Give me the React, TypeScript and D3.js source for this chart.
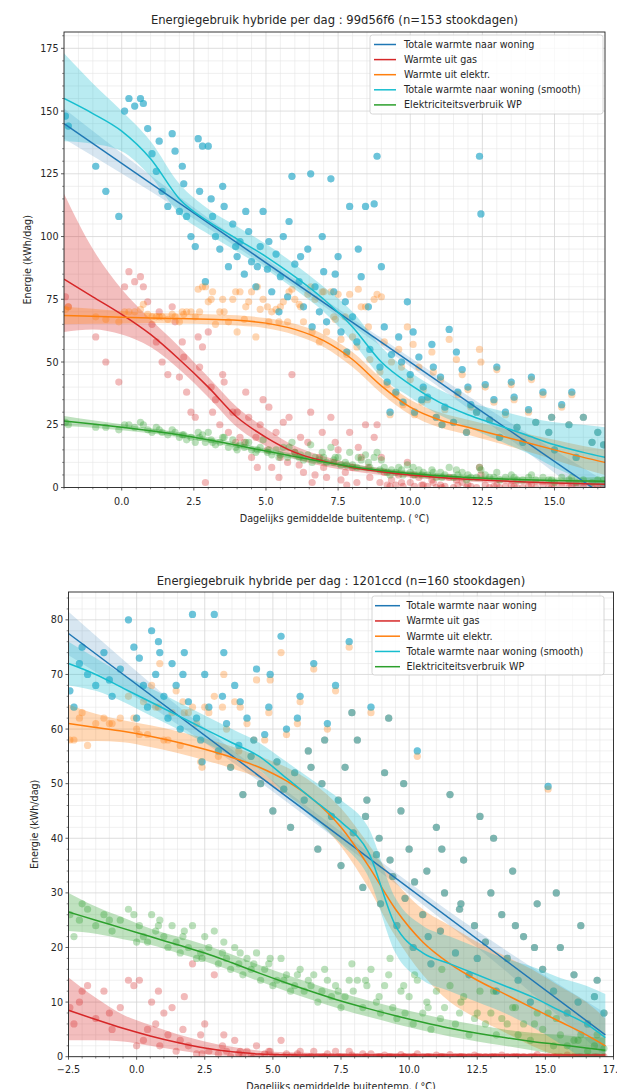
import React from 'react';
import * as d3 from 'd3';

const FONT = "'DejaVu Sans', sans-serif";
const COL = { blue: '#1f77b4', red: '#d62728', orange: '#ff7f0e', cyan: '#17becf', green: '#2ca02c' };
const legendLabels = [
  'Totale warmte naar woning',
  'Warmte uit gas',
  'Warmte uit elektr.',
  'Totale warmte naar woning (smooth)',
  'Elektriciteitsverbruik WP',
];
const legendColors = [COL.blue, COL.red, COL.orange, COL.cyan, COL.green];
const xAxisLabel = 'Dagelijks gemiddelde buitentemp. (\u2009\u00b0C)';
const yAxisLabel = 'Energie (kWh/dag)';

// ---------------- chart 1 : 99d56f6 ----------------
const c1Title = 'Energiegebruik hybride per dag : 99d56f6 (n=153 stookdagen)';
const c1XTicks = [0, 2.5, 5, 7.5, 10, 12.5, 15];
const c1YTicks = [0, 25, 50, 75, 100, 125, 150, 175];
const c1Temp = [-1.95,-1.85,-0.9,-0.55,-0.1,0.25,0.45,0.65,0.75,0.9,1.05,1.2,1.4,1.6,1.75,1.85,2.0,2.15,2.25,2.4,2.55,2.65,2.8,2.9,3.0,3.1,3.25,3.4,3.55,3.7,3.85,4.0,4.1,4.25,4.4,4.5,4.65,4.8,4.9,5.05,5.2,5.35,5.5,5.6,5.75,5.9,6.0,6.15,6.3,6.45,6.55,6.7,6.85,7.0,7.1,7.25,7.35,7.5,7.6,7.75,7.9,8.0,8.15,8.3,8.45,8.6,8.75,8.85,8.95,9.1,9.2,9.35,9.5,9.6,9.75,9.9,10.0,10.15,10.3,10.45,10.6,10.75,10.9,11.05,11.2,11.35,11.5,11.65,11.8,11.95,12.1,12.4,12.45,12.6,12.75,12.9,13.1,13.3,13.5,13.7,13.9,14.1,14.35,14.6,14.8,15.0,15.25,15.5,15.75,16.0,16.3,16.7,
  0.1,1.3,2.1,2.7,3.15,3.5,3.95,4.3,4.7,5.1,5.45,5.8,6.2,6.6,6.95,7.4,7.8,8.2,8.55,9.0,9.3,9.7,10.1,10.4,10.8,11.1,11.6,12.0,12.3,13.0,13.6,14.2,14.9,15.6,16.5];
const c1Total = [148,144,128,118,108,155,152,155,153,143, 133,126,118,112,141,134,110,121,108,100, 96,139,136,82,136,115,100,95,112,88, 105,92,98,85,102,90,80,96,110,87, 78,93,84,100,76,124,89,82,72,95, 125,80,70,86,66,123,78,92,62,74, 112,68,58,84,112,55,113,132,48,64, 42,53,38,60,34,74,45,30,52,40, 36,57,28,44,32,63,26,38,47,22, 33,132,109,41,27,35,20,30,42,24, 18,31,26,38,22,15,33,25,12,28, 18,17,
  150,138,128,118,108,120,96,110,88,98,70,106,92,64,100,85,54,95,72,88,30,50,62,35,48,25,54,40,30,48,36,44,28,38,22];
const c1Gas = [76,72,60,50,42,86,82,84,80,74, 65,58,50,45,72,66,44,52,38,30, 28,60,56,2,62,40,35,25,42,22, 30,30,20,18,28,12,20,25,35,15, 8,22,12,26,10,45,14,9,6,18, 30,5,12,8,4,28,10,15,3,6, 22,8,2,12,25,4,20,25,2,6, 1,3,1,5,0.5,10,2,0.5,4,1, 0.5,3,0,1,0.5,4,0,1,2,0, 0.5,8,5,1,0,0.5,0,0.5,1,0, 0,0.5,0,1,0,0,0.5,0,0,0, 0,0,
  80,70,58,48,30,45,18,38,8,32,4,28,20,2,22,18,1,16,8,12,0.5,2,5,1,2,0,3,1,0,1,0.5,1,0,0.5,0];
const c1Elek = [71,72,68,67,66,70,70,71,73,69, 68,68,68,67,69,68,66,69,70,70, 68,79,80,80,74,75,65,70,70,66, 75,62,78,67,74,78,60,71,75,72, 70,71,72,74,66,79,75,73,66,77, 80,75,58,78,62,78,68,77,59,68, 77,60,56,72,72,51,75,77,46,58, 41,50,37,55,33,64,43,29,48,39, 35,54,28,43,31,59,26,37,45,22, 32,55,50,40,27,34,20,29,41,24, 18,30,26,37,22,15,32,25,12,28, 18,17,
  70,68,70,70,78,75,78,72,80,66,66,78,72,62,78,67,53,79,64,76,29,48,57,34,46,25,51,39,30,47,35,43,28,37,22];
const c1Wp = [26,25,24,24,23,25,24,26,25,23, 22,24,22,21,23,22,20,21,19,20, 18,22,21,18,22,19,17,18,20,16, 19,15,17,16,18,15,14,16,19,14, 13,15,13,16,12,18,14,12,11,13, 17,12,11,12,10,16,11,12,9,10, 14,9,8,11,13,8,12,14,7,8, 6,7,6,8,5,9,6,5,7,6, 5,7,4,6,5,8,4,5,6,3, 4,8,7,5,4,4,3,4,5,3, 3,4,3,4,3,2,4,3,2,3, 2,3,
  25,23,21,20,18,20,16,18,15,15,12,16,13,10,14,12,9,12,10,11,5,7,8,5,6,4,7,5,4,6,4,5,3,4,3];
// smoothed curves
const c1CurveX = [-2, -1, 0, 1, 2, 3, 4, 5, 6, 7, 8, 9, 10, 11, 12, 13, 14, 15, 16, 16.75];
const c1GasLine = [83, 76, 69, 61, 51, 40, 28, 20, 14, 10.5, 8, 6.3, 5, 4, 3.3, 2.7, 2.2, 1.8, 1.5, 1.3];
const c1GasLo = [62, 63, 61, 56, 47, 36, 24, 16.5, 11.5, 8.5, 6.5, 5, 4, 3, 2.4, 1.8, 1.3, 0.9, 0.5, 0.2];
const c1GasHi = [117, 95, 79, 67, 56, 44, 32, 23.5, 16.5, 12.5, 9.5, 7.6, 6.2, 5.1, 4.3, 3.7, 3.2, 2.8, 2.6, 2.5];
const c1ElLine = [68.5, 68.2, 67.8, 67.5, 67.3, 67, 66.6, 65.5, 63, 58.5, 51, 40.5, 32, 27, 24, 21, 18, 15, 12, 10];
const c1ElLo = [65, 65.2, 65.3, 65.5, 65.3, 65, 64.6, 63.5, 60.8, 56, 48, 37.5, 29, 24, 21, 17.8, 14.5, 11, 7.5, 5];
const c1ElHi = [72, 71.2, 70.3, 69.5, 69.3, 69, 68.6, 67.5, 65.2, 61, 54, 43.5, 35, 30, 27, 24.2, 21.5, 19, 16.5, 15];
const c1CyLine = [155, 149, 142, 131, 115, 106, 99, 92, 84, 75, 64, 50, 41, 34, 29, 25, 21, 17, 14, 12];
const c1CyLo = [138, 137, 134, 124, 109, 101, 94, 87, 79, 70, 58, 44, 36, 29, 24, 19, 14, 8, 3, 0];
const c1CyHi = [173, 161, 150, 138, 121, 111, 104, 97, 89, 80, 70, 56, 46, 39, 34, 31, 28, 26, 25, 24];
const c1GrLine = [26.5, 25.3, 24, 22.6, 21, 19, 16.8, 14.5, 12.3, 10.2, 8.3, 6.8, 5.6, 4.7, 4, 3.5, 3.1, 2.8, 2.6, 2.5];
const c1GrLo = [24.5, 23.8, 22.8, 21.6, 20, 18, 15.8, 13.5, 11.3, 9.2, 7.3, 5.8, 4.6, 3.7, 3, 2.5, 2, 1.6, 1.2, 0.8];
const c1GrHi = [28.5, 26.8, 25.2, 23.6, 22, 20, 17.8, 15.5, 13.3, 11.2, 9.3, 7.8, 6.6, 5.7, 5, 4.5, 4.2, 4, 4, 4.2];
const c1FitX = [-2, 16.75];
const c1FitY = [145, -3.5];
const c1FitBandX = [-2, 2, 7.3, 12, 16.75];
const c1FitLo = [139, 110.8, 69.8, 31.6, -9.5];
const c1FitHi = [151, 115.8, 72.8, 36.6, 2.5];

// ---------------- chart 2 : 1201ccd ----------------
const c2Title = 'Energiegebruik hybride per dag : 1201ccd (n=160 stookdagen)';
const c2XTicks = [-2.5, 0, 2.5, 5, 7.5, 10, 12.5, 15, 17.5];
const c2YTicks = [0, 10, 20, 30, 40, 50, 60, 70, 80];
const c2Temp = [-2.45,-2.3,-2.1,-1.8,-1.5,-1.2,-0.9,-0.6,-0.3,-0.1,0.1,0.25,0.4,0.55,0.7,0.85,1.0,1.15,1.3,1.45,1.6,1.75,1.9,2.05,2.2,2.35,2.5,2.65,2.85,3.0,3.15,3.3,3.45,3.6,3.75,3.9,4.05,4.2,4.4,4.55,4.7,4.85,5.0,5.15,5.3,5.5,5.65,5.8,6.0,6.15,6.3,6.5,6.65,6.8,7.0,7.15,7.3,7.5,7.65,7.8,7.95,8.1,8.3,8.45,8.6,8.8,8.95,9.1,9.25,9.4,9.55,9.7,9.85,10.0,10.15,10.3,10.5,10.65,10.8,11.0,11.15,11.3,11.5,11.7,11.85,12.0,12.2,12.4,12.6,12.8,13.0,13.2,13.4,13.6,13.8,14.0,14.2,14.45,14.7,14.9,15.1,15.3,15.55,15.8,16.05,16.3,16.55,16.8,17.15,
  -2.0,-1.0,0.0,0.8,1.7,2.4,3.2,3.8,4.3,4.9,5.4,5.9,6.4,6.9,7.4,7.9,8.4,8.9,9.3,9.8,10.2,10.7,11.2,11.9,12.5,13.1,13.9,14.6,15.4,16.2,16.9];
const c2Total = [67,64,72,70,68,74,66,71,80,75, 73,68,64,78,70,74,66,62,72,68, 60,74,65,81,62,58,70,64,81,56, 66,61,53,68,57,48,62,55,71,50, 59,64,45,54,77,60,42,52,66,47, 56,72,38,50,61,44,68,35,53,76, 41,58,31,47,64,37,28,52,62,33, 24,45,29,38,20,56,26,34,17,42, 23,30,48,19,27,36,15,24,44,21, 30,12,26,18,34,14,22,10,28,16, 49.5,12,20,8,15,24,6,11,8,
  75,69,62,76,70,54,74,65,58,70,49,62,53,58,47,63,44,40,36,50,32,22,38,28,18,40,24,20,30,10,14];
const c2Gas = [9,6,10,13,7,12,5,9,14,13, 14,3,5,10,6,2,8,4,9,1, 3,11,2,17,0.5,4,6,1,15,0.5, 2,1,0,3,0.5,0,1,0,2,0, 0.5,1,0,0,3,0.5,0,0,1,0, 0,1,0,0,0.5,0,1,0,0,1, 0,0,0.5,0,0.5,0,0,0.3,0,0, 0,0.4,0,0,0,0.5,0,0,0,0.3, 0,0,0.4,0,0,0,0,0.3,0,0, 0,0,0.3,0,0,0,0,0,0.4,0, 0,0,0,0.3,0,0,0,0,0,
  12,8,2,12,5,0.5,4,1,0,1,0,0.5,0,0,0,0.3,0,0,0,0,0,0,0,0,0,0,0,0,0,0,0];
const c2Elek = [58,58,62,57,61,62,61,62,66,62, 59,65,59,68,64,72,58,58,63,67, 57,63,63,64,61,54,64,63,66,55, 64,60,53,65,56,48,61,55,69,50, 58,63,45,54,74,59,42,52,65,47, 56,71,38,50,60,44,67,35,53,75, 41,58,31,47,63,37,28,52,62,33, 24,45,29,38,20,55,26,34,17,42, 23,30,48,19,27,36,15,24,44,21, 30,12,26,18,34,14,22,10,28,16, 49,12,20,8,15,24,6,11,8,
  63,61,60,64,65,53,70,64,58,69,49,61,53,58,47,63,44,40,36,50,32,22,38,28,18,40,24,20,30,10,14];
const c2Wp = [26,22,25,27,24,26,23,25,27,26, 24,22,21,26,23,25,22,20,24,21, 19,23,20,24,18,19,22,20,23,17, 19,18,16,20,17,15,18,16,19,14, 16,17,13,14,18,15,12,13,16,12, 14,15,10,12,14,11,13,9,11,14, 12,14,9,13,16,10,8,13,15,9, 7,12,8,11,6,14,8,10,5,12, 7,9,13,6,8,11,4,7,12,6, 8,4,7,6,9,4,6,3,8,5, 8,2,4,2,3,4,1,2,1.5,
  28,25,21,24,22,18,21,19,17,18,14,15,13,16,12,17,14,11,18,13,15,9,16,10,8,12,9,6,7,3,4];
const c2CurveX = [-2.5, -1.5, -0.5, 0.5, 1.5, 2.5, 3.5, 4.5, 5.5, 6.5, 7.5, 8.5, 9.5, 10.5, 11.5, 12.5, 13.5, 14.5, 15.5, 16.5, 17.2];
const c2CyLine = [72, 70, 67.5, 65, 62.5, 60, 57.5, 55, 51, 47, 43, 37.5, 24, 19, 17, 15, 13, 11, 8.5, 6, 3.5];
const c2CyLo = [68, 67, 65, 62.5, 60, 57.5, 55, 52.5, 48, 43.5, 39, 33, 19, 14, 12, 10, 8, 5.5, 2.5, -1, -4.5];
const c2CyHi = [76, 73, 70, 67.5, 65, 62.5, 60, 57.5, 54, 50.5, 47, 42, 29, 24, 22, 20, 18, 16.5, 14.5, 13, 11.5];
const c2ElLine = [61, 60.3, 59.6, 58.7, 57.6, 56.3, 54.8, 53, 50.5, 47, 42, 35, 27, 21, 17, 14, 11.5, 9, 6.5, 4, 2];
const c2ElLo = [57.5, 57.8, 57.6, 56.7, 55.6, 54.3, 52.8, 51, 48, 44, 38.5, 31, 22, 15, 10, 7, 4.5, 2, 0, -2, -3];
const c2ElHi = [64.5, 62.8, 61.6, 60.7, 59.6, 58.3, 56.8, 55, 53, 50, 45.5, 39, 32, 27, 24, 21, 18.5, 16, 13, 10, 7];
const c2GasLine = [8.5, 6.8, 5.2, 3.8, 2.6, 1.6, 0.9, 0.5, 0.35, 0.3, 0.3, 0.3, 0.3, 0.3, 0.3, 0.3, 0.3, 0.3, 0.3, 0.3, 0.3];
const c2GasLo = [3, 3, 2.8, 2, 1.2, 0.5, 0.1, 0, 0, 0, 0, 0, 0, 0, 0, 0, 0, 0, 0, 0, 0];
const c2GasHi = [14.5, 10.8, 7.7, 5.8, 4.1, 2.8, 1.8, 1.1, 0.8, 0.7, 0.65, 0.6, 0.6, 0.6, 0.6, 0.6, 0.6, 0.6, 0.6, 0.6, 0.6];
const c2GrLine = [26.5, 25, 23.5, 22, 20.5, 19, 17.2, 15.3, 13.5, 11.8, 10.2, 8.8, 7.5, 6.3, 5.2, 4.3, 3.5, 2.8, 2.2, 1.6, 1.2];
const c2GrLo = [23, 22.5, 21.5, 20.5, 19, 17.5, 15.7, 13.8, 12, 10.3, 8.7, 7.3, 6, 4.8, 3.7, 2.8, 2, 1.2, 0.4, -0.4, -1.1];
const c2GrHi = [30, 27.5, 25.5, 23.5, 22, 20.5, 18.7, 16.8, 15, 13.3, 11.7, 10.3, 9, 7.8, 6.7, 5.8, 5, 4.4, 4, 3.6, 3.5];
const c2FitX = [-2.5, 17.2];
const c2FitY = [77.5, 4];
const c2FitBandX = [-2.5, 2, 7.5, 12.5, 17.2];
const c2FitLo = [73.5, 59.2, 39.2, 20, 0];
const c2FitHi = [81.5, 62.2, 41.2, 23, 8];

type Band = { x: number[]; line: number[]; lo: number[]; hi: number[] };
type Cfg = {
  id: string; title: string; titleY: number;
  left: number; right: number; top: number; bottom: number;
  xDomain: [number, number]; yDomain: [number, number];
  xTicks: number[]; yTicks: number[]; xMinorStep: number; yMinorStep: number;
  xFmt: (v: number) => string;
  temp: number[]; total: number[]; gas: number[]; elek: number[]; wp: number[];
  gasB: Band; elB: Band; cyB: Band; grB: Band;
  fitX: number[]; fitY: number[]; fitBandX: number[]; fitLo: number[]; fitHi: number[];
  legend: { x: number; y: number; w: number; h: number; row0: number; rowStep: number; lx1: number; lx2: number; tx: number };
  ylabelX: number; tickLabelY: number; xlabelY: number;
};

const fmtMinus = (s: string) => s.replace('-', '\u2212');

const cfgs: Cfg[] = [
  {
    id: 'c1', title: c1Title, titleY: 24,
    left: 64, right: 605, top: 32, bottom: 487.5,
    xDomain: [-2.0, 16.75], yDomain: [0, 181.5],
    xTicks: c1XTicks, yTicks: c1YTicks, xMinorStep: 0.5, yMinorStep: 5,
    xFmt: (v) => fmtMinus(v.toFixed(1)),
    temp: c1Temp, total: c1Total, gas: c1Gas, elek: c1Elek, wp: c1Wp,
    gasB: { x: c1CurveX, line: c1GasLine, lo: c1GasLo, hi: c1GasHi },
    elB: { x: c1CurveX, line: c1ElLine, lo: c1ElLo, hi: c1ElHi },
    cyB: { x: c1CurveX, line: c1CyLine, lo: c1CyLo, hi: c1CyHi },
    grB: { x: c1CurveX, line: c1GrLine, lo: c1GrLo, hi: c1GrHi },
    fitX: c1FitX, fitY: c1FitY, fitBandX: c1FitBandX, fitLo: c1FitLo, fitHi: c1FitHi,
    legend: { x: 370, y: 35, w: 233, h: 79, row0: 44.5, rowStep: 15.1, lx1: 374, lx2: 396, tx: 404 },
    ylabelX: 31, tickLabelY: 505, xlabelY: 522,
  },
  {
    id: 'c2', title: c2Title, titleY: 585,
    left: 68.5, right: 613.5, top: 592, bottom: 1056.7,
    xDomain: [-2.5, 17.5], yDomain: [0, 85.1],
    xTicks: c2XTicks, yTicks: c2YTicks, xMinorStep: 0.5, yMinorStep: 2,
    xFmt: (v) => fmtMinus(v.toFixed(1)),
    temp: c2Temp, total: c2Total, gas: c2Gas, elek: c2Elek, wp: c2Wp,
    gasB: { x: c2CurveX, line: c2GasLine, lo: c2GasLo, hi: c2GasHi },
    elB: { x: c2CurveX, line: c2ElLine, lo: c2ElLo, hi: c2ElHi },
    cyB: { x: c2CurveX, line: c2CyLine, lo: c2CyLo, hi: c2CyHi },
    grB: { x: c2CurveX, line: c2GrLine, lo: c2GrLo, hi: c2GrHi },
    fitX: c2FitX, fitY: c2FitY, fitBandX: c2FitBandX, fitLo: c2FitLo, fitHi: c2FitHi,
    legend: { x: 372, y: 596, w: 232, h: 79, row0: 605.7, rowStep: 15.25, lx1: 375, lx2: 400, tx: 406.5 },
    ylabelX: 38, tickLabelY: 1073, xlabelY: 1090,
  },
];

function Chart({ c }: { c: Cfg }) {
  const x = d3.scaleLinear().domain(c.xDomain).range([c.left, c.right]);
  const y = d3.scaleLinear().domain(c.yDomain).range([c.bottom, c.top]);
  const line = d3.line<[number, number]>().x((d) => x(d[0])).y((d) => y(d[1])).curve(d3.curveMonotoneX);
  const area = d3.area<[number, number, number]>().x((d) => x(d[0])).y0((d) => y(d[1])).y1((d) => y(d[2])).curve(d3.curveMonotoneX);
  const bandPath = (b: Band) => area(b.x.map((v, i) => [v, b.lo[i], b.hi[i]] as [number, number, number])) || '';
  const linePath = (b: Band) => line(b.x.map((v, i) => [v, b.line[i]] as [number, number])) || '';
  const eps = 1e-9;
  const xMinor = d3.range(Math.ceil(c.xDomain[0] / c.xMinorStep) * c.xMinorStep, c.xDomain[1] + eps, c.xMinorStep)
    .filter((v) => !c.xTicks.some((t) => Math.abs(t - v) < eps));
  const yMinor = d3.range(0, c.yDomain[1] + eps, c.yMinorStep).filter((v) => !c.yTicks.some((t) => Math.abs(t - v) < eps));
  const xMaj = c.xTicks.filter((v) => v >= c.xDomain[0] - eps && v <= c.xDomain[1] + eps);
  const clip = `clip-${c.id}`;
  const R = 3.6;
  const dots = (vals: number[], color: string, op: number) =>
    vals.map((v, i) => <circle key={color + i} cx={x(c.temp[i])} cy={y(v)} r={R} fill={color} fillOpacity={op} />);
  const fitLine = line(c.fitX.map((v, i) => [v, c.fitY[i]] as [number, number])) || '';
  const fitBand = area(c.fitBandX.map((v, i) => [v, c.fitLo[i], c.fitHi[i]] as [number, number, number])) || '';
  const op = 0.4;
  const bandOp = 0.3;
  const tickCol = '#333';
  return (
    <g>
      <defs>
        <clipPath id={clip}>
          <rect x={c.left} y={c.top} width={c.right - c.left} height={c.bottom - c.top} />
        </clipPath>
      </defs>
      <rect x={c.left} y={c.top} width={c.right - c.left} height={c.bottom - c.top} fill="#fff" />
      <g clipPath={`url(#${clip})`}>
        {/* grid */}
        {xMinor.map((v) => <line key={'gxm' + v} x1={x(v)} x2={x(v)} y1={c.top} y2={c.bottom} stroke="#e6e6e6" strokeWidth={0.6} />)}
        {yMinor.map((v) => <line key={'gym' + v} x1={c.left} x2={c.right} y1={y(v)} y2={y(v)} stroke="#e6e6e6" strokeWidth={0.6} />)}
        {xMaj.map((v) => <line key={'gx' + v} x1={x(v)} x2={x(v)} y1={c.top} y2={c.bottom} stroke="#d6d6d6" strokeWidth={0.8} />)}
        {c.yTicks.map((v) => <line key={'gy' + v} x1={c.left} x2={c.right} y1={y(v)} y2={y(v)} stroke="#d6d6d6" strokeWidth={0.8} />)}
        {/* collections: scatter + bands in creation order */}
        {dots(c.total, COL.blue, op)}
        <path d={fitBand} fill={COL.blue} fillOpacity={0.18} />
        {dots(c.gas, COL.red, op * 0.8)}
        <path d={bandPath(c.gasB)} fill={COL.red} fillOpacity={bandOp} />
        {dots(c.elek, COL.orange, op * 0.8)}
        <path d={bandPath(c.elB)} fill={COL.orange} fillOpacity={bandOp} />
        {dots(c.total, COL.cyan, op)}
        <path d={bandPath(c.cyB)} fill={COL.cyan} fillOpacity={bandOp} />
        {dots(c.wp, COL.green, op * 0.8)}
        <path d={bandPath(c.grB)} fill={COL.green} fillOpacity={bandOp} />
        {/* lines */}
        <path d={fitLine} fill="none" stroke={COL.blue} strokeWidth={1.5} />
        <path d={linePath(c.gasB)} fill="none" stroke={COL.red} strokeWidth={1.5} />
        <path d={linePath(c.elB)} fill="none" stroke={COL.orange} strokeWidth={1.5} />
        <path d={linePath(c.cyB)} fill="none" stroke={COL.cyan} strokeWidth={1.5} />
        <path d={linePath(c.grB)} fill="none" stroke={COL.green} strokeWidth={1.5} />
      </g>
      {/* spines */}
      <rect x={c.left} y={c.top} width={c.right - c.left} height={c.bottom - c.top} fill="none" stroke="#222" strokeWidth={0.9} />
      {/* ticks */}
      {xMaj.map((v) => <line key={'tx' + v} x1={x(v)} x2={x(v)} y1={c.bottom} y2={c.bottom + 3} stroke={tickCol} strokeWidth={0.8} />)}
      {xMinor.map((v) => <line key={'txm' + v} x1={x(v)} x2={x(v)} y1={c.bottom} y2={c.bottom + 1.8} stroke={tickCol} strokeWidth={0.6} />)}
      {c.yTicks.map((v) => <line key={'ty' + v} x1={c.left - 3} x2={c.left} y1={y(v)} y2={y(v)} stroke={tickCol} strokeWidth={0.8} />)}
      {yMinor.map((v) => <line key={'tym' + v} x1={c.left - 1.8} x2={c.left} y1={y(v)} y2={y(v)} stroke={tickCol} strokeWidth={0.6} />)}
      {xMaj.map((v) => (
        <text key={'lx' + v} x={x(v)} y={c.tickLabelY} textAnchor="middle" fontSize={9.6} fontFamily={FONT} fill="#262626">{c.xFmt(v)}</text>
      ))}
      {c.yTicks.map((v) => (
        <text key={'ly' + v} x={c.left - 5.5} y={y(v)} textAnchor="end" dominantBaseline="central" fontSize={9.6} fontFamily={FONT} fill="#262626">{v}</text>
      ))}
      <text x={(c.left + c.right) / 2} y={c.xlabelY} textAnchor="middle" fontSize={9.6} fontFamily={FONT} fill="#262626">{xAxisLabel}</text>
      <text transform={`translate(${c.ylabelX},${(c.top + c.bottom) / 2}) rotate(-90)`} textAnchor="middle" fontSize={9.6} fontFamily={FONT} fill="#262626">{yAxisLabel}</text>
      <text x={(c.left + c.right) / 2} y={c.titleY} textAnchor="middle" fontSize={11.6} fontFamily={FONT} fill="#262626">{c.title}</text>
      {/* legend */}
      <rect x={c.legend.x} y={c.legend.y} width={c.legend.w} height={c.legend.h} rx={2.5} fill="#fff" fillOpacity={0.8} stroke="#cccccc" strokeWidth={0.8} />
      {legendLabels.map((lab, i) => {
        const ry = c.legend.row0 + i * c.legend.rowStep;
        return (
          <g key={lab}>
            <line x1={c.legend.lx1} x2={c.legend.lx2} y1={ry} y2={ry} stroke={legendColors[i]} strokeWidth={1.5} />
            <text x={c.legend.tx} y={ry} dominantBaseline="central" fontSize={9.6} fontFamily={FONT} fill="#262626">{lab}</text>
          </g>
        );
      })}
    </g>
  );
}

export default function App() {
  return (
    <svg width={617} height={1089} style={{ position: 'absolute', left: 0, top: 0, background: '#fff' }} xmlns="http://www.w3.org/2000/svg">
      <rect x={0} y={0} width={617} height={1089} fill="#fff" />
      {cfgs.map((c) => <Chart key={c.id} c={c} />)}
    </svg>
  );
}
